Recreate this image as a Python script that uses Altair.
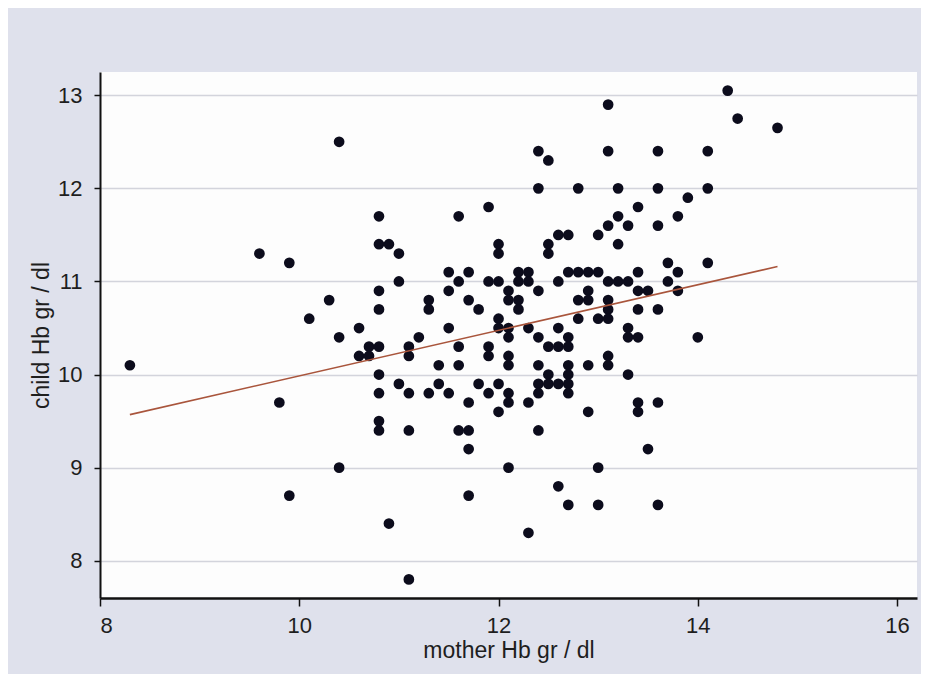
import altair as alt
import pandas as pd

# Mother's haemoglobin (x) and child's haemoglobin (y)
mother_hb = [
    10.4, 10.8, 10.8, 10.9, 11.0, 9.6, 9.9, 11.0, 10.8, 10.3, 10.8, 10.1, 10.6, 10.4,
    8.3, 10.7, 10.8, 10.6, 10.7, 10.8, 11.0, 10.8, 9.8, 10.8, 10.8, 10.4, 9.9, 10.9,
    13.1, 13.1, 12.4, 12.5, 12.4, 12.8, 13.2, 13.4, 11.9, 11.6, 13.2, 13.1, 13.3,
    12.6, 12.7, 13.0, 13.2, 12.0, 12.0, 12.5, 12.5, 11.5, 11.7, 11.6, 11.9, 12.0,
    12.2, 12.3, 12.2, 12.3, 12.6, 12.7, 12.8, 12.9, 13.0, 13.4, 13.1, 13.2, 13.3,
    11.5, 12.1, 12.4, 13.4, 13.5, 12.9, 12.8, 13.1, 11.3, 11.7, 12.1, 12.2, 11.3,
    11.8, 12.2, 13.1, 13.4, 12.8, 13.0, 13.1, 12.0, 11.5, 12.6, 13.3, 11.2, 12.9,
    14.3, 14.4, 14.8, 13.6, 14.1, 13.6, 14.1, 13.9, 13.8, 13.6, 13.7, 14.1, 13.8,
    13.7, 13.8, 13.6, 13.4, 14.0, 13.3, 13.4, 13.4, 13.6, 13.5, 13.6, 13.3,
    12.0, 12.1, 12.1, 11.1, 11.1, 11.6, 11.9, 11.9, 12.1, 12.1, 11.4, 11.6, 11.1,
    11.3, 11.4, 11.5, 11.8, 11.9, 12.0, 12.1, 12.1, 11.7, 12.3, 12.0, 12.3, 12.4,
    12.5, 12.6, 12.7, 12.7, 12.4, 12.7, 12.7, 12.7, 12.7, 12.5, 12.5, 12.4, 12.4,
    12.6, 12.9, 13.1, 13.1, 11.6, 11.7, 11.7, 12.4, 12.9, 11.1, 12.1, 13.0, 12.6,
    11.7, 12.7, 13.0, 12.3, 11.1,
]
child_hb = [
    12.5, 11.7, 11.4, 11.4, 11.3, 11.3, 11.2, 11.0, 10.9, 10.8, 10.7, 10.6, 10.5, 10.4,
    10.1, 10.3, 10.3, 10.2, 10.2, 10.0, 9.9, 9.8, 9.7, 9.5, 9.4, 9.0, 8.7, 8.4,
    12.9, 12.4, 12.4, 12.3, 12.0, 12.0, 12.0, 11.8, 11.8, 11.7, 11.7, 11.6, 11.6,
    11.5, 11.5, 11.5, 11.4, 11.4, 11.3, 11.4, 11.3, 11.1, 11.1, 11.0, 11.0, 11.0,
    11.1, 11.1, 11.0, 11.0, 11.0, 11.1, 11.1, 11.1, 11.1, 11.1, 11.0, 11.0, 11.0,
    10.9, 10.9, 10.9, 10.9, 10.9, 10.9, 10.8, 10.8, 10.8, 10.8, 10.8, 10.8, 10.7,
    10.7, 10.7, 10.7, 10.7, 10.6, 10.6, 10.6, 10.6, 10.5, 10.5, 10.5, 10.4, 10.8,
    13.05, 12.75, 12.65, 12.4, 12.4, 12.0, 12.0, 11.9, 11.7, 11.6, 11.2, 11.2, 11.1,
    11.0, 10.9, 10.7, 10.4, 10.4, 10.0, 9.7, 9.6, 9.7, 9.2, 8.6, 10.4,
    10.5, 10.5, 10.4, 10.3, 10.2, 10.3, 10.3, 10.2, 10.2, 10.1, 10.1, 10.1, 9.8,
    9.8, 9.9, 9.8, 9.9, 9.8, 9.9, 9.8, 9.7, 9.7, 9.7, 9.6, 10.5, 10.4,
    10.3, 10.3, 10.4, 10.3, 10.1, 10.1, 10.0, 9.9, 9.8, 10.0, 9.9, 9.9, 9.8,
    9.9, 10.1, 10.2, 10.1, 9.4, 9.4, 9.2, 9.4, 9.6, 9.4, 9.0, 9.0, 8.8,
    8.7, 8.6, 8.6, 8.3, 7.8,
]

# Fitted regression line end points
fit_x = [8.3, 14.8]
fit_y = [9.57, 11.16]

x_ticks = [8, 10, 12, 14, 16]
y_ticks = [8, 9, 10, 11, 12, 13]

FONT = "Liberation Sans Narrow, Liberation Sans, Arial, sans-serif"

df = pd.DataFrame({"mother": mother_hb, "child": child_hb})
fit = pd.DataFrame({"mother": fit_x, "child": fit_y})

xscale = alt.Scale(domain=[8, 16.2], nice=False, zero=False)
yscale = alt.Scale(domain=[7.6, 13.25], nice=False, zero=False)

x_axis = alt.Axis(
    values=x_ticks, format="d", title="mother Hb gr / dl", grid=False,
    domainColor="#111111", domainWidth=2.5, tickColor="#111111", tickWidth=1.5,
    tickSize=8, labelPadding=9, labelFontSize=22, titleFontSize=23,
    labelFont=FONT, titleFont=FONT, titleFontWeight="normal",
    labelColor="#1e1e1e", titleColor="#1e1e1e", titlePadding=3,
)
y_axis = alt.Axis(
    values=y_ticks, format="d", title="child Hb gr / dl", grid=True,
    gridColor="#d3d4dc", gridWidth=1.5,
    domainColor="#111111", domainWidth=2, tickColor="#111111", tickWidth=1.5,
    tickSize=6, labelPadding=12, labelFontSize=22, titleFontSize=23,
    labelFont=FONT, titleFont=FONT, titleFontWeight="normal",
    labelColor="#1e1e1e", titleColor="#1e1e1e", titlePadding=4,
)

points = alt.Chart(df).mark_circle(size=115, color="#0c0c1c", opacity=1).encode(
    x=alt.X("mother:Q", scale=xscale, axis=x_axis),
    y=alt.Y("child:Q", scale=yscale, axis=y_axis),
)

line = alt.Chart(fit).mark_line(color="#a9553c", strokeWidth=1.6).encode(
    x=alt.X("mother:Q", scale=xscale),
    y=alt.Y("child:Q", scale=yscale),
)

chart = (
    alt.layer(points, line)
    .properties(
        width=817,
        height=526,
        background="#dfe1ec",
        padding={"left": 92, "top": 64, "right": 4, "bottom": 76},
        autosize=alt.AutoSizeParams(type="none"),
    )
    .configure_view(fill="#fdfdfd", strokeWidth=0)
)

chart.save("out.html", embed_options={"renderer": "svg", "actions": False})
